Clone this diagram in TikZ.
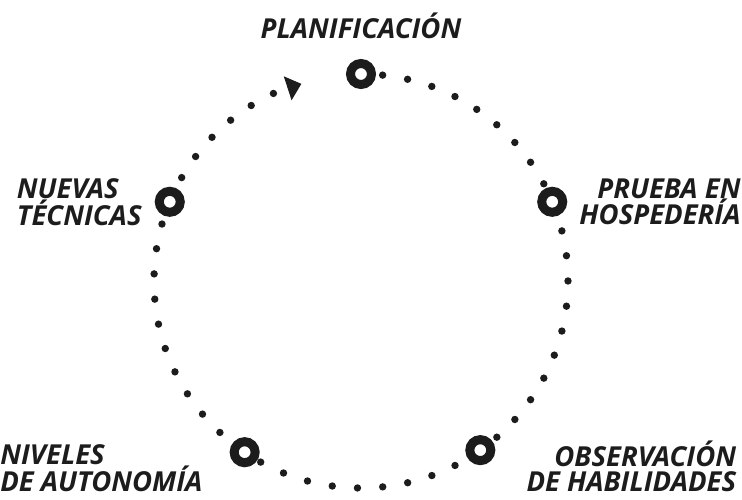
\documentclass[tikz,border=0pt]{standalone}
\usepackage{fontspec}
\setmainfont{Open Sans}
\usetikzlibrary{positioning, backgrounds}
\definecolor{ink}{HTML}{1C1C1C}

\begin{document}
\begin{tikzpicture}[
    x=1pt, y=1pt,
    ring/.style   ={draw=ink, circle, line width=9pt, fill=white,
                    minimum size=21pt, inner sep=0pt},
    lbl/.style    ={text=ink, inner sep=0pt,
                    font=\fontsize{27.5}{25}\selectfont\bfseries\itshape},
    dotline/.style={draw=ink, line width=7.4pt, line cap=round,
                    dash pattern=on 0pt off 25.29pt, dash phase=3.61pt},
]
\useasboundingbox (-361,-218) rectangle (381,281);
\node[ring] (plan)    at (90:207)    {};
\node[ring] (prueba)  at (22.5:207)  {};
\node[ring] (observ)  at (305.2:207) {};
\node[ring] (niveles) at (235.8:207) {};
\node[ring] (nuevas)  at (157.5:207) {};
\coordinate (tip) at (109.5:206);
\node[lbl, above=20pt of plan] (planlbl) {PLANIFICACIÓN};
\node[lbl, align=right, right=12pt of prueba] (pruebalbl) {PRUEBA EN\\HOSPEDERÍA};
\node[lbl, align=right, right=31pt of observ, yshift=-16pt] (observlbl) {OBSERVACIÓN\\DE HABILIDADES};
\node[lbl, align=left, left=27pt of niveles, yshift=-16pt] (niveleslbl) {NIVELES\\DE AUTONOMÍA};
\node[lbl, align=left, left=13pt of nuevas] (nuevaslbl) {NUEVAS\\TÉCNICAS};
% dotted cycle, clockwise from the top ring back round to the arrow
\begin{scope}[on background layer]
\draw[dotline] (plan.center) arc[start angle=90, end angle=-250, radius=207];
\end{scope}
\fill[ink, shift={(tip)}, rotate=18] (9.6,0) -- (-4.8,12.6) -- (-4.8,-12.6) -- cycle;
\end{tikzpicture}
\end{document}
